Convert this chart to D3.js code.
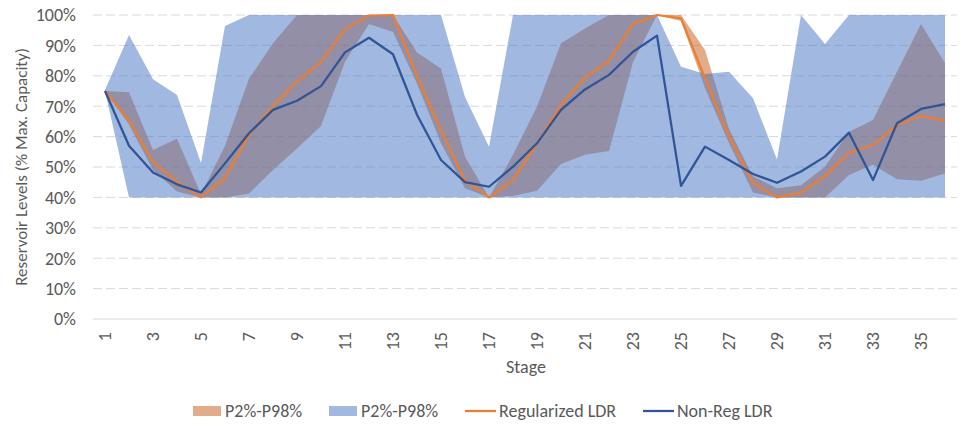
<!DOCTYPE html>
<html>
<head>
<meta charset="utf-8">
<script src="https://cdn.jsdelivr.net/npm/d3@7"></script>
<style>
  body { margin: 0; background: #fff; }
  svg text { font-family: Carlito, "Liberation Sans Narrow", "Liberation Sans", sans-serif; fill: #595959; }
</style>
</head>
<body>
<div id="chart"></div>
<script>
// stages on the category axis
const stages = [1,2,3,4,5,6,7,8,9,10,11,12,13,14,15,16,17,18,19,20,21,22,23,24,25,26,27,28,29,30,31,32,33,34,35,36];
const stageTicks = [1,3,5,7,9,11,13,15,17,19,21,23,25,27,29,31,33,35];
const yTicks = [0,10,20,30,40,50,60,70,80,90,100];

// Regularized LDR (orange)
const regLDR = [75,65.2,51.7,45.2,40,46.3,60.5,70.1,78.1,84.6,95.3,99.8,100,80,62,45.5,40,45.7,57.8,70.4,79.5,84.9,97,100,98.9,79.2,60,44.8,40,41.6,47,54.7,57.2,63.8,66.8,65.2];
const regLo = [75,64,49,41.9,40,40,41.3,49,56.1,63.5,84.6,97,94.4,77.5,57.8,43,40,40.5,42.2,51,54,55.3,84.5,100,98,76,57.8,41.6,40,40,40,47.4,50.7,46,45.5,47.9];
const regHi = [75,74.6,55.6,59.3,41,57,79,90.7,100,100,100,100,100,87.7,82.4,53.4,40,54,69.8,90.7,95.6,100,100,100,100,88.5,62.5,46.9,43,44,50.1,61.6,65.5,81.3,97,84.1];

// Non-Reg LDR (blue)
const nonRegLDR = [75,57,48.2,44.3,41.6,51.2,61.1,68.8,71.8,76.6,87.7,92.5,87.1,67.2,52.3,45,43.5,50.1,57.8,68.8,75.5,80.3,87.9,93.2,43.8,56.7,52.3,47.7,44.8,48.5,53.4,61.3,45.7,64.4,69.1,70.7];
const nonRegLo = [75,40,40,40,40,40,40,40,40,40,40,40,40,40,40,40,40,40,40,40,40,40,40,40,40,40,40,40,40,40,40,40,40,40,40,40];
const nonRegHi = [75.3,93.4,78.9,73.7,51.3,96.4,100,100,100,100,100,100,100,100,100,73,56.7,100,100,100,100,100,100,100,83,80.6,81.3,72.6,52.5,100,90.5,100,100,100,100,100];

const legendItems = [
  {label: "P2%-P98%", type: "area", color: "#C55A11"},
  {label: "P2%-P98%", type: "area", color: "#4472C4"},
  {label: "Regularized LDR", type: "line", color: "#ED7D31"},
  {label: "Non-Reg LDR", type: "line", color: "#2F5597"}
];

const W = 966, H = 426;
const svg = d3.select("#chart").append("svg")
    .attr("width", W)
    .attr("height", H);

const x = d3.scalePoint()
    .domain(stages)
    .range([93, 957])
    .padding(0.5);

const y = d3.scaleLinear()
    .domain([0, 100])
    .range([319, 15]);

// gridlines
svg.append("g")
    .selectAll("line")
    .data(yTicks.filter(d => d > 0))
    .enter().append("line")
    .attr("x1", 93).attr("x2", 957)
    .attr("y1", d => y(d)).attr("y2", d => y(d))
    .attr("stroke", "#D9D9D9")
    .attr("stroke-width", 1)
    .attr("stroke-dasharray", "9,4");

svg.append("line")
    .attr("x1", 93).attr("x2", 957)
    .attr("y1", y(0)).attr("y2", y(0))
    .attr("stroke", "#D9D9D9");

// y tick labels
svg.append("g")
    .selectAll("text")
    .data(yTicks)
    .enter().append("text")
    .attr("x", 76)
    .attr("y", d => y(d))
    .attr("dy", "0.35em")
    .attr("text-anchor", "end")
    .style("font-size", "18px")
    .text(d => d + "%");

// x tick labels (rotated)
svg.append("g")
    .selectAll("text")
    .data(stageTicks)
    .enter().append("text")
    .attr("transform", d => `translate(${x(d)},332) rotate(-90)`)
    .attr("dy", "0.35em")
    .attr("text-anchor", "end")
    .style("font-size", "18px")
    .text(d => d);

// bands
const band = (lo, hi) => d3.area()
    .x((d, i) => x(stages[i]))
    .y0((d, i) => y(lo[i]))
    .y1((d, i) => y(hi[i]));

svg.append("path")
    .datum(stages)
    .attr("d", band(regLo, regHi))
    .attr("fill", "#C55A11")
    .attr("fill-opacity", 0.5);

svg.append("path")
    .datum(stages)
    .attr("d", band(nonRegLo, nonRegHi))
    .attr("fill", "#4472C4")
    .attr("fill-opacity", 0.5);

// lines
const line = d3.line()
    .x(d => x(d[0]))
    .y(d => y(d[1]));

svg.append("path")
    .datum(stages.map((s, i) => [s, regLDR[i]]))
    .attr("d", line)
    .attr("fill", "none")
    .attr("stroke", "#ED7D31")
    .attr("stroke-width", 2.25)
    .attr("stroke-linejoin", "round");

svg.append("path")
    .datum(stages.map((s, i) => [s, nonRegLDR[i]]))
    .attr("d", line)
    .attr("fill", "none")
    .attr("stroke", "#2F5597")
    .attr("stroke-width", 2.25)
    .attr("stroke-linejoin", "round");

// axis titles
svg.append("text")
    .attr("x", 526)
    .attr("y", 367)
    .attr("dy", "0.35em")
    .attr("text-anchor", "middle")
    .style("font-size", "18px")
    .text("Stage");

svg.append("text")
    .attr("transform", "translate(21,167) rotate(-90)")
    .attr("dy", "0.35em")
    .attr("text-anchor", "middle")
    .style("font-size", "17px")
    .text("Reservoir Levels (% Max. Capacity)");

// legend
const legendX = [193, 329, 465, 643];
const legend = svg.append("g");
legendItems.forEach((d, i) => {
    const g = legend.append("g").attr("transform", `translate(${legendX[i]},411)`);
    if (d.type === "area") {
        g.append("rect")
            .attr("x", 0).attr("y", -5)
            .attr("width", 28).attr("height", 10)
            .attr("fill", d.color)
            .attr("fill-opacity", 0.5);
        g.append("text")
            .attr("x", 32).attr("dy", "0.35em")
            .style("font-size", "18px")
            .text(d.label);
    } else {
        g.append("line")
            .attr("x1", 0).attr("x2", 31)
            .attr("stroke", d.color)
            .attr("stroke-width", 2.25);
        g.append("text")
            .attr("x", 34).attr("dy", "0.35em")
            .style("font-size", "18px")
            .text(d.label);
    }
});
</script>
</body>
</html>
